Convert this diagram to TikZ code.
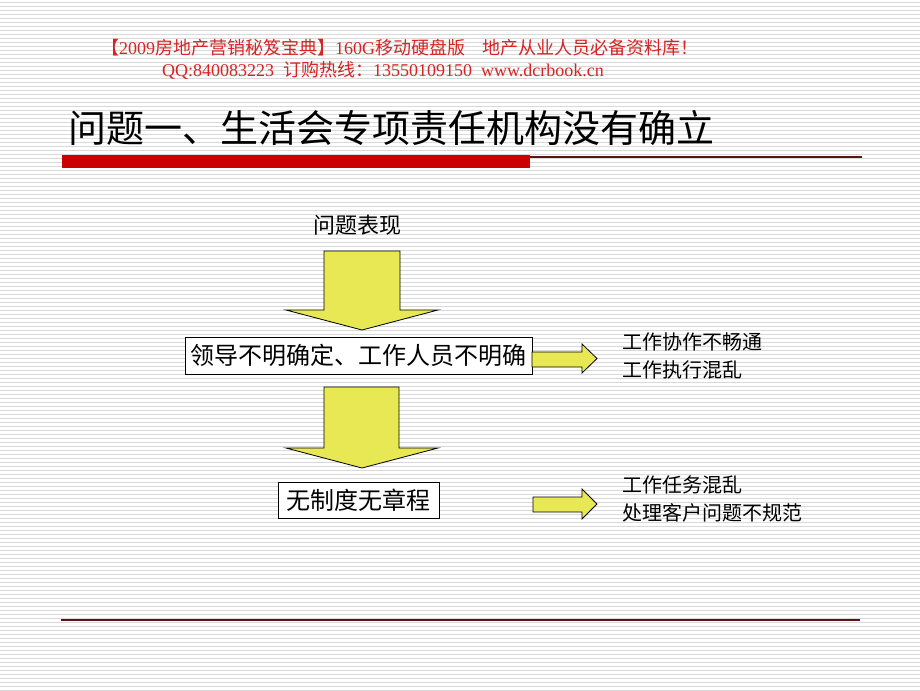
\documentclass[tikz,border=0pt]{standalone}
\usepackage{fontspec}
\setmainfont{Liberation Serif}
\newfontfamily\cjk{Noto Sans CJK SC}
\definecolor{arrowyellow}{RGB}{232,232,84}
\definecolor{headred}{RGB}{215,35,35}
\definecolor{barred}{RGB}{204,0,0}
\definecolor{rulered}{RGB}{90,20,20}

\tikzset{every picture/.style={line width=0.75pt}}

\begin{document}
\begin{tikzpicture}[x=0.75pt,y=0.75pt,yscale=-1,xscale=1,
  problembox/.style={draw,fill=white,inner sep=0pt,font=\cjk\fontsize{18}{18}\selectfont},
  blockarrow/.style={draw,fill=arrowyellow,line width=0.6pt,line join=miter},
  effecttext/.style={anchor=west,align=left,inner sep=0pt,font=\cjk\fontsize{15}{21}\selectfont}]
        \useasboundingbox (0,0) rectangle (920,690);

        % striped background
        \fill[white] (0,0) rectangle (920,690);
        \foreach \y in {2,6,...,690} \draw[gray!30,line width=0.45pt] (0,\y) -- (920,\y);

        % Text Node: header
        \node[text=headred,inner sep=0pt,font=\fontsize{13.5}{13.5}\selectfont] (head1) at (400,48) {{\cjk 【}2009{\cjk 房地产营销秘笈宝典】}160G{\cjk 移动硬盘版\quad 地产从业人员必备资料库！}};
        \node[text=headred,inner sep=0pt,font=\fontsize{13.5}{13.5}\selectfont] (head2) at (383,70) {QQ:840083223\ \ {\cjk 订购热线：}13550109150\ \ www.dcrbook.cn};

        % Text Node: title
        \node[inner sep=0pt,font=\cjk\fontsize{28.5}{28.5}\selectfont] (title) at (391,128) {问题一、生活会专项责任机构没有确立};

        % title rule
        \fill[barred] (62,155) rectangle (530,168);
        \draw[rulered,line width=0.8pt] (530,157) -- (862,157);

        % Text Node
        \node[inner sep=0pt,font=\cjk\fontsize{16.5}{16.5}\selectfont] (cause) at (357,225) {问题表现};

        % boxes
        \node[problembox,minimum width=260.25pt,minimum height=27.75pt] (leader) at (358.5,355.5) {领导不明确定、工作人员不明确};
        \node[problembox,minimum width=120.75pt,minimum height=27pt] (norule) at (358.5,500) {无制度无章程};

        %Shape: Down Arrow
        \draw[blockarrow] (324,251) -- (400,251) -- (400,310) -- (438,310) -- (362,330) -- (286,310) -- (324,310) -- cycle;
        %Shape: Down Arrow
        \draw[blockarrow] (324,387) -- (399,387) -- (399,448) -- (438,448) -- (362,468) -- (286,448) -- (324,448) -- cycle;
        %Shape: Right Arrow
        \draw[blockarrow] (532,352) -- (582,352) -- (582,344) -- (597,358.5) -- (582,373) -- (582,367) -- (532,367) -- cycle;
        %Shape: Right Arrow
        \draw[blockarrow] (533,497) -- (582,497) -- (582,489) -- (597,504) -- (582,519) -- (582,512) -- (533,512) -- cycle;

        % Text Node
        \node[effecttext] (effect1) at (622,356) {工作协作不畅通\\工作执行混乱};
        % Text Node
        \node[effecttext] (effect2) at (622,499) {工作任务混乱\\处理客户问题不规范};

        % bottom rule
        \draw[rulered,line width=1.3pt] (61,620) -- (860,620);

\end{tikzpicture}
\end{document}
